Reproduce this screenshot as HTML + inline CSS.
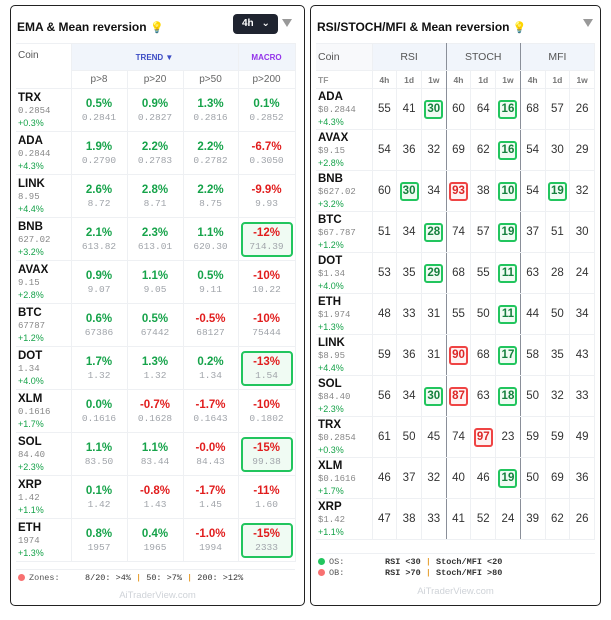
<!DOCTYPE html><html><head><style>
*{box-sizing:border-box;margin:0;padding:0}
body{width:611px;height:620px;background:#fff;font-family:"Liberation Sans","DejaVu Sans",sans-serif;position:relative;overflow:hidden;color:#111}
.p{position:absolute;top:5px;height:601px;border:1.5px solid #222;border-radius:5px;background:#fff}
.t{position:absolute;top:14px;left:6px;font-size:12px;font-weight:bold;color:#111}
.bulb{color:#e8c14a;font-size:11px}
.tri{position:absolute;top:13px;width:0;height:0;border-left:5px solid transparent;border-right:5px solid transparent;border-top:8px solid #999}
table{position:absolute;border-collapse:collapse;table-layout:fixed}
td{border:1px solid #eef0f3;text-align:center;vertical-align:middle;padding:0}
.c{text-align:left;padding-left:2px;border-left:none}
.nm{font-weight:bold;font-size:11.5px;color:#111;line-height:13px}
.pr{font-family:"Liberation Mono",monospace;font-size:9px;color:#888;line-height:12px}
.ch{font-size:9px;color:#16a34a;line-height:12px}
.g{color:#16a34a}.r{color:#e11d1d}
.v{font-weight:bold;font-size:11.5px;line-height:14px}
.m{font-family:"Liberation Mono",monospace;font-size:9.5px;color:#a0a4aa;line-height:13px}
.bx{display:inline-block;border:2px solid #22c55e;border-radius:4px;background:#f0fbf3;width:52px;padding:2px 0}
.n{font-size:11.5px;color:#333}
.hb{display:inline-block;width:19px;height:19px;line-height:15px;border:2px solid #22c55e;border-radius:3px;background:#f0fbf3;color:#15803d;font-weight:bold}
.hr{border-color:#ef4444;background:#fef2f2;color:#dc2626}
.wm{position:absolute;font-size:9.5px;color:#cfd3d8;width:100%;text-align:center}
.ft{position:absolute;font-family:"Liberation Mono",monospace;font-size:8.5px;color:#555}
.dot{display:inline-block;width:7px;height:7px;border-radius:50%;margin-right:4px;vertical-align:-1px}
</style></head><body>
<div class="p" style="left:10px;width:295px">
<div class="t">EMA &amp; Mean reversion <span class="bulb">💡</span></div>
<div style="position:absolute;left:222px;top:8px;width:45px;height:20px;background:#1f2430;border-radius:4px;color:#fff;font-size:10px;font-weight:bold;line-height:20px;padding-left:9px">4h <span style="margin-left:5px">⌄</span></div>
<div class="tri" style="left:271px"></div>
<table style="left:5px;top:37px;width:279px">
<colgroup><col style="width:55px"><col style="width:56px"><col style="width:56px"><col style="width:55px"><col style="width:57px"></colgroup>
<tr style="height:27px"><td class="c" rowspan="2" style="vertical-align:top;padding-top:6px;font-size:10px;color:#555;border-bottom:1px solid #eef0f3">Coin</td><td colspan="3" style="background:#f1f5fb;font-size:8px;font-weight:bold;color:#3b4bc4">TREND ▼</td><td style="background:#f1f5fb;font-size:8px;font-weight:bold;color:#9333ea">MACRO</td></tr>
<tr style="height:18px;font-size:10px;color:#666"><td>p&gt;8</td><td>p&gt;20</td><td>p&gt;50</td><td>p&gt;200</td></tr>
<tr style="height:43px"><td class="c"><div class="nm">TRX</div><div class="pr">0.2854</div><div class="ch">+0.3%</div></td><td><div class="v g">0.5%</div><div class="m">0.2841</div></td><td><div class="v g">0.9%</div><div class="m">0.2827</div></td><td><div class="v g">1.3%</div><div class="m">0.2816</div></td><td><div class="v g">0.1%</div><div class="m">0.2852</div></td></tr>
<tr style="height:43px"><td class="c"><div class="nm">ADA</div><div class="pr">0.2844</div><div class="ch">+4.3%</div></td><td><div class="v g">1.9%</div><div class="m">0.2790</div></td><td><div class="v g">2.2%</div><div class="m">0.2783</div></td><td><div class="v g">2.2%</div><div class="m">0.2782</div></td><td><div class="v r">-6.7%</div><div class="m">0.3050</div></td></tr>
<tr style="height:43px"><td class="c"><div class="nm">LINK</div><div class="pr">8.95</div><div class="ch">+4.4%</div></td><td><div class="v g">2.6%</div><div class="m">8.72</div></td><td><div class="v g">2.8%</div><div class="m">8.71</div></td><td><div class="v g">2.2%</div><div class="m">8.75</div></td><td><div class="v r">-9.9%</div><div class="m">9.93</div></td></tr>
<tr style="height:43px"><td class="c"><div class="nm">BNB</div><div class="pr">627.02</div><div class="ch">+3.2%</div></td><td><div class="v g">2.1%</div><div class="m">613.82</div></td><td><div class="v g">2.3%</div><div class="m">613.01</div></td><td><div class="v g">1.1%</div><div class="m">620.30</div></td><td><div class="bx"><div class="v r">-12%</div><div class="m">714.39</div></div></td></tr>
<tr style="height:43px"><td class="c"><div class="nm">AVAX</div><div class="pr">9.15</div><div class="ch">+2.8%</div></td><td><div class="v g">0.9%</div><div class="m">9.07</div></td><td><div class="v g">1.1%</div><div class="m">9.05</div></td><td><div class="v g">0.5%</div><div class="m">9.11</div></td><td><div class="v r">-10%</div><div class="m">10.22</div></td></tr>
<tr style="height:43px"><td class="c"><div class="nm">BTC</div><div class="pr">67787</div><div class="ch">+1.2%</div></td><td><div class="v g">0.6%</div><div class="m">67386</div></td><td><div class="v g">0.5%</div><div class="m">67442</div></td><td><div class="v r">-0.5%</div><div class="m">68127</div></td><td><div class="v r">-10%</div><div class="m">75444</div></td></tr>
<tr style="height:43px"><td class="c"><div class="nm">DOT</div><div class="pr">1.34</div><div class="ch">+4.0%</div></td><td><div class="v g">1.7%</div><div class="m">1.32</div></td><td><div class="v g">1.3%</div><div class="m">1.32</div></td><td><div class="v g">0.2%</div><div class="m">1.34</div></td><td><div class="bx"><div class="v r">-13%</div><div class="m">1.54</div></div></td></tr>
<tr style="height:43px"><td class="c"><div class="nm">XLM</div><div class="pr">0.1616</div><div class="ch">+1.7%</div></td><td><div class="v g">0.0%</div><div class="m">0.1616</div></td><td><div class="v r">-0.7%</div><div class="m">0.1628</div></td><td><div class="v r">-1.7%</div><div class="m">0.1643</div></td><td><div class="v r">-10%</div><div class="m">0.1802</div></td></tr>
<tr style="height:43px"><td class="c"><div class="nm">SOL</div><div class="pr">84.40</div><div class="ch">+2.3%</div></td><td><div class="v g">1.1%</div><div class="m">83.50</div></td><td><div class="v g">1.1%</div><div class="m">83.44</div></td><td><div class="v r">-0.0%</div><div class="m">84.43</div></td><td><div class="bx"><div class="v r">-15%</div><div class="m">99.38</div></div></td></tr>
<tr style="height:43px"><td class="c"><div class="nm">XRP</div><div class="pr">1.42</div><div class="ch">+1.1%</div></td><td><div class="v g">0.1%</div><div class="m">1.42</div></td><td><div class="v r">-0.8%</div><div class="m">1.43</div></td><td><div class="v r">-1.7%</div><div class="m">1.45</div></td><td><div class="v r">-11%</div><div class="m">1.60</div></td></tr>
<tr style="height:43px"><td class="c"><div class="nm">ETH</div><div class="pr">1974</div><div class="ch">+1.3%</div></td><td><div class="v g">0.8%</div><div class="m">1957</div></td><td><div class="v g">0.4%</div><div class="m">1965</div></td><td><div class="v r">-1.0%</div><div class="m">1994</div></td><td><div class="bx"><div class="v r">-15%</div><div class="m">2333</div></div></td></tr>
</table>
<div style="position:absolute;left:5px;width:279px;top:563px;border-top:1px solid #eef0f3"></div>
<div class="ft" style="left:7px;top:567px"><span class="dot" style="background:#f87171"></span>Zones:</div>
<div class="ft" style="left:74px;top:567px;color:#333">8/20: &gt;4% <b style="color:#e8a33a">|</b> 50: &gt;7% <b style="color:#e8a33a">|</b> 200: &gt;12%</div>
<div class="wm" style="top:584px">AiTraderView.com</div>
</div>

<div class="p" style="left:310px;width:291px">
<div class="t">RSI/STOCH/MFI &amp; Mean reversion <span class="bulb">💡</span></div>
<div class="tri" style="left:272px"></div>
<table style="left:5px;top:37px;width:279px">
<colgroup><col style="width:56px"><col><col><col><col><col><col><col><col><col></colgroup>
<tr style="height:27px;font-size:10.5px;color:#555"><td class="c" style="background:#f8f9fb">Coin</td><td colspan="3" style="background:#f1f5fb;border-right:1px solid #8a8f99">RSI</td><td colspan="3" style="background:#f1f5fb;border-right:1px solid #8a8f99">STOCH</td><td colspan="3" style="background:#f1f5fb">MFI</td></tr>
<tr style="height:18px;font-size:8.5px;font-weight:bold;color:#777"><td class="c" style="color:#999">TF</td><td>4h</td><td>1d</td><td style="border-right:1px solid #8a8f99">1w</td><td>4h</td><td>1d</td><td style="border-right:1px solid #8a8f99">1w</td><td>4h</td><td>1d</td><td>1w</td></tr>
</table>
<table id="rt" style="left:5px;top:82px;width:279px" class="n">
<colgroup><col style="width:56px"><col><col><col><col><col><col><col><col><col></colgroup>
</table>
<div style="position:absolute;left:5px;width:279px;top:547px;border-top:1px solid #eef0f3"></div>
<div class="ft" style="left:7px;top:551px"><span class="dot" style="background:#22c55e"></span>OS:</div>
<div class="ft" style="left:74px;top:551px;color:#333;font-weight:bold">RSI &lt;30 <span style="color:#e8a33a">|</span> Stoch/MFI &lt;20</div>
<div class="ft" style="left:7px;top:562px"><span class="dot" style="background:#f87171"></span>OB:</div>
<div class="ft" style="left:74px;top:562px;color:#333;font-weight:bold">RSI &gt;70 <span style="color:#e8a33a">|</span> Stoch/MFI &gt;80</div>
<div class="wm" style="top:580px">AiTraderView.com</div>
</div>
<script>
var d=[["ADA","$0.2844","+4.3%","55 41 g30 60 64 g16 68 57 26"],["AVAX","$9.15","+2.8%","54 36 32 69 62 g16 54 30 29"],["BNB","$627.02","+3.2%","60 g30 34 r93 38 g10 54 g19 32"],["BTC","$67.787","+1.2%","51 34 g28 74 57 g19 37 51 30"],["DOT","$1.34","+4.0%","53 35 g29 68 55 g11 63 28 24"],["ETH","$1.974","+1.3%","48 33 31 55 50 g11 44 50 34"],["LINK","$8.95","+4.4%","59 36 31 r90 68 g17 58 35 43"],["SOL","$84.40","+2.3%","56 34 g30 r87 63 g18 50 32 33"],["TRX","$0.2854","+0.3%","61 50 45 74 r97 23 59 59 49"],["XLM","$0.1616","+1.7%","46 37 32 40 46 g19 50 69 36"],["XRP","$1.42","+1.1%","47 38 33 41 52 24 39 62 26"]];
var h="";d.forEach(function(r){h+='<tr style="height:41px"><td class="c"><div class="nm">'+r[0]+'</div><div class="pr">'+r[1]+'</div><div class="ch">'+r[2]+'</div></td>';r[3].split(" ").forEach(function(v,i){var s=(i==2||i==5)?' style="border-right:1px solid #8a8f99"':'';var c=v[0]=="g"?'<span class="hb">'+v.slice(1)+'</span>':v[0]=="r"?'<span class="hb hr">'+v.slice(1)+'</span>':v;h+='<td'+s+'>'+c+'</td>';});h+='</tr>';});
document.getElementById("rt").innerHTML+=h;
</script>
</body></html>
